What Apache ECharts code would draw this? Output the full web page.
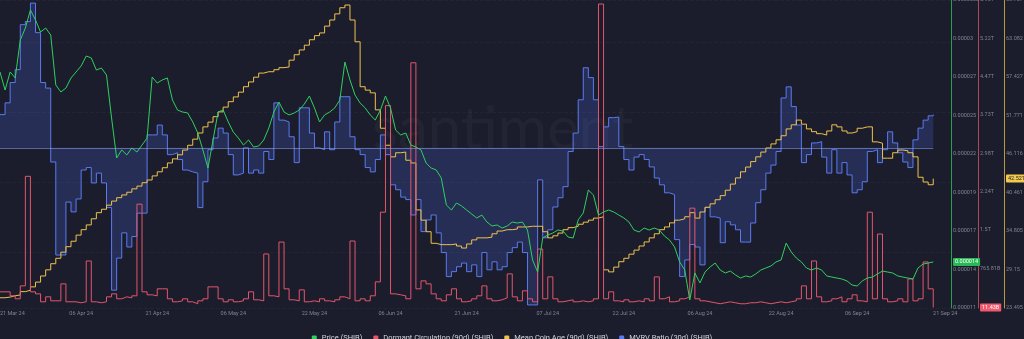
<!DOCTYPE html>
<html><head><meta charset="utf-8">
<script src="https://cdn.jsdelivr.net/npm/echarts@6/dist/echarts.min.js"></script>
<style>html,body{margin:0;padding:0;background:#1b1d2c;}#c{width:1024px;height:339px;}</style>
</head><body><div id="c"></div>
<script>
// ---- data (daily, starting 21 Mar 2024) ----
const startDate = [2024, 3, 21];
const axisEnd = [2024, 9, 24, 12];

// SHIB price, in millionths of USD
const priceMicro = [
27.86,26.57,27.86,27.43,30.14,31.0,32.29,31.57,30.71,31.0,
30.5,26.93,26.43,26.71,27.43,27.86,28.29,29.0,28.86,28.0,
28.14,27.64,24.57,21.71,22.29,21.93,22.43,22.14,22.64,23.14,
27.5,27.07,27.29,27.43,25.86,25.14,25.0,24.93,24.29,23.5,
22.29,21.0,23.0,25.0,25.14,24.29,23.57,23.14,22.64,23.0,
22.5,22.57,23.0,23.86,25.0,25.71,25.0,24.79,24.93,25.14,
25.57,26.14,25.29,24.29,24.79,25.0,25.29,25.86,28.57,27.29,
26.21,25.64,25.29,24.79,24.43,25.14,26.14,25.29,23.71,23.36,
23.5,22.64,22.5,22.29,21.36,21.0,20.86,20.29,18.36,18.0,
18.5,18.29,18.0,17.71,17.43,17.64,17.14,16.86,16.93,16.71,
16.86,17.14,17.07,17.14,16.57,14.43,13.57,16.0,16.21,16.36,
16.57,16.5,16.07,16.0,17.29,17.79,19.43,19.07,17.64,17.86,
18.0,17.86,17.64,17.43,17.14,16.57,16.43,16.71,16.57,16.71,
16.57,16.14,15.86,15.36,14.29,13.71,11.57,13.5,12.79,13.57,
13.93,14.21,13.71,13.5,13.64,13.36,13.14,13.29,13.21,13.43,
13.71,13.86,14.0,14.29,14.43,15.64,15.0,14.57,14.29,13.86,
13.71,13.86,13.71,13.29,13.21,13.14,13.07,12.93,12.64,12.57,
12.93,13.14,13.21,13.43,13.64,13.57,13.5,13.29,13.21,13.14,
13.07,13.86,14.14,14.21,14.29];

// Dormant Circulation (90d), billions of SHIB
const dormantB = [
313,313,236,178,428,2548,313,274,120,216,
139,139,467,120,120,101,120,910,120,101,
120,216,274,178,216,197,236,2009,313,255,
236,371,371,178,120,139,178,120,82,139,
178,409,409,178,120,159,120,139,178,313,
159,139,1045,236,216,1276,371,159,139,351,
120,139,120,178,139,120,159,216,178,1296,
139,178,139,236,506,1854,3916,274,255,236,
178,4745,371,525,467,274,178,139,255,371,
178,120,139,178,236,428,178,139,159,197,
660,216,139,332,178,120,1141,178,602,178,
120,139,159,120,139,120,139,178,5882,178,
313,139,120,159,120,139,120,178,139,602,
178,216,120,139,178,216,1932,178,139,120,
101,82,101,120,101,82,82,101,101,120,
101,82,101,120,101,120,139,178,428,178,
910,216,120,139,178,216,120,178,255,139,
120,1854,178,1431,178,120,139,178,120,563,
139,178,891,371,11.43];

// Mean Coin Age (90d)
const meanCoinAge = [
25.0,25.1,25.3,25.4,25.9,26.1,26.6,27.3,28.2,29.1,
30.0,30.8,31.7,32.5,33.3,34.2,35.0,35.7,36.6,37.5,
38.0,38.6,39.2,39.7,40.1,40.5,41.0,41.4,41.9,42.3,
42.9,43.5,44.1,44.8,45.4,46.0,46.7,47.4,48.3,49.2,
50.1,50.8,51.6,52.3,53.0,53.8,54.5,55.2,56.0,56.7,
57.4,58.0,58.2,58.2,58.5,58.8,58.9,59.9,60.7,61.4,
62.1,62.9,63.5,63.9,64.9,65.8,66.7,67.6,68.0,65.8,
62.6,56.0,55.5,55.1,52.6,49.9,47.4,45.7,46.3,46.4,
45.2,44.8,37.9,36.4,34.7,33.0,32.8,32.8,32.8,32.9,
32.6,32.3,32.9,33.5,33.8,33.8,33.9,34.4,34.8,35.0,
35.0,35.1,35.4,35.4,35.5,35.5,35.5,34.7,33.8,34.1,
34.5,35.0,35.3,35.5,35.8,36.1,36.4,36.7,36.9,29.1,
28.8,29.5,30.3,30.8,31.4,32.0,32.6,33.2,33.8,34.4,
35.0,35.4,36.0,36.4,36.6,36.9,37.5,36.7,37.6,38.3,
38.8,39.4,40.0,40.8,41.7,42.6,43.5,44.2,45.0,45.7,
46.4,47.0,47.6,48.2,48.8,49.8,50.4,51.1,50.5,49.8,
49.4,49.1,48.9,49.5,50.4,50.1,49.5,49.2,49.4,49.9,
50.1,50.1,47.9,47.7,45.5,45.5,46.3,46.7,46.6,46.3,
45.7,42.7,42.0,41.6,42.5];

// MVRV Ratio (30d), percent
const mvrvPct = [
5.4,7.3,10.6,12.7,20.0,20.5,23.5,18.7,10.6,9.7,
-2.3,-17.4,-17.4,-8.8,-10.4,-8.3,-3.6,-3.2,-5.7,-4.1,
-5.7,-9.7,-23.1,-17.9,-13.8,-16.1,-14.4,-10.6,-10.6,2.1,
2.1,3.7,2.1,-1.1,-0.8,-1.9,-3.6,-3.9,-4.1,-9.7,
-5.5,-0.3,1.6,3.2,2.4,-1.1,-4.4,-4.1,0,-4.1,
-3.6,-4.1,-0.6,-1.9,7.3,4.5,4.2,1.8,-2.4,6.5,
6.5,2.4,0.0,-0.3,2.6,-0.3,4.2,8.3,8.3,1.8,
-0.3,-1.1,-3.2,-3.9,-1.9,2.1,-1.1,-6.0,-6.8,-8.0,
-8.4,-10.9,-8.4,-13.6,-11.7,-10.9,-13.8,-17.0,-20.9,-20.1,
-19.3,-18.7,-20.1,-19.0,-20.9,-17.0,-19.8,-18.5,-19.8,-19.3,
-17.0,-16.2,-15.3,-17.0,-25.5,-25.5,-5.2,-14.6,-13.3,-9.6,
-8.1,-6.3,-0.6,2.4,7.8,13.0,11.4,7.8,0.2,3.4,
4.9,5.0,0.2,-1.9,-3.6,-1.5,-1.1,-1.9,-3.1,-4.9,
-6.0,-7.3,-7.6,-14.9,-20.9,-18.2,-15.7,-16.1,-19.0,-9.7,
-11.2,-11.4,-15.4,-12.0,-12.5,-13.3,-15.3,-15.3,-12.2,-8.9,
-6.8,-4.1,-2.8,-0.6,8.1,9.9,6.7,3.7,-2.4,-1.1,
0.8,1.0,-1.5,-4.1,-0.3,-4.1,-2.4,-4.4,-7.3,-6.8,
-5.5,-0.6,-0.3,-2.4,-0.3,2.6,0.8,-0.8,-2.3,-3.2,
1.3,3.2,4.5,5.2,5.4];

// ---- tick labels ----
const xTickDates = [[2024,3,21],[2024,4,6],[2024,4,21],[2024,5,6],[2024,5,22],[2024,6,6],[2024,6,21],[2024,7,7],[2024,7,22],[2024,8,6],[2024,8,22],[2024,9,6],[2024,9,21]];
const xTickLabels = ['21 Mar 24','06 Apr 24','21 Apr 24','06 May 24','22 May 24','06 Jun 24','21 Jun 24','07 Jul 24','22 Jul 24','06 Aug 24','22 Aug 24','06 Sep 24','21 Sep 24'];

const priceTicks = [11,13.75,16.5,19.25,22,24.75,27.5,30.25,33];
const priceTickLabels = ['0.000011','0.000014','0.000017','0.000019','0.000022','0.000025','0.000027','0.00003','0.0000332'];
const dormantTicks = [23.8,765.8,1507.8,2249.8,2991.8,3733.8,4475.8,5217.8,5959.8];
const dormantTickLabels = ['','765.81B','1.5T','2.24T','2.98T','3.73T','4.47T','5.22T','5.96T'];
const mcaTicks = [23.495,29.15,34.805,40.461,46.116,51.771,57.427,63.082,68.737];
const mcaTickLabels = ['23.495','29.15','34.805','40.461','46.116','51.771','57.427','63.082','68.737'];
const lastPriceLabel = '0.000014';
const lastDormantLabel = '11.43B';
const lastMcaLabel = '42.521';

const seriesNames = ['Price (SHIB)','Dormant Circulation (90d) (SHIB)','Mean Coin Age (90d) (SHIB)','MVRV Ratio (30d) (SHIB)'];
const colors = {price:'#30d05e', dormant:'#e2566b', mca:'#efc24d', mvrv:'#5a7af0'};

// ---- build ----
const DAY = 86400000;
function toTime(a){ return new Date(a[0], a[1]-1, a[2], a[3]||0).getTime(); }
const t0 = toTime(startDate);
const tMax = toTime(axisEnd);
function pairs(arr){ return arr.map((v,i)=>[t0 + i*DAY, v]); }
const xTickTimes = xTickDates.map(toTime);
const lastIdx = priceMicro.length - 1;

const labelFont = 'Roboto';
const labelColor = '#80838f';

function nearestIndex(list, v){
  let best=0, bd=Infinity;
  list.forEach((t,i)=>{ const d=Math.abs(t-v); if(d<bd){bd=d;best=i;} });
  return best;
}

function rightAxis(o){
  const lastVal = o.last;
  return {
    type:'value', position:'right', offset:o.offset, min:o.min, max:o.max,
    axisLine:{show:true, lineStyle:{color:o.lineColor, width:1}},
    axisTick:{show:false},
    splitLine:{show:!!o.split, lineStyle:{color:'rgba(255,255,255,0.035)', type:'dashed'}},
    axisLabel:{
      show:true, margin:2, fontSize:5.5, color:labelColor, fontFamily:labelFont,
      customValues:o.ticks.concat([lastVal]),
      hideOverlap:false,
      formatter:function(v){
        if (Math.abs(v-lastVal) < 1e-9) return '{cur|'+o.lastLabel+'}';
        return o.labels[nearestIndex(o.ticks, v)];
      },
      rich:{cur:{backgroundColor:o.boxBg, color:o.boxColor, fontSize:5.5, fontFamily:labelFont, padding:[1,2,1,2], borderRadius:1}}
    }
  };
}

const chart = echarts.init(document.getElementById('c'), null, {renderer:'canvas'});
chart.setOption({
  backgroundColor:'#1b1d2c',
  animation:false,
  textStyle:{fontFamily:labelFont},
  grid:{left:0, right:73, top:0, bottom:31, containLabel:false, outerBoundsMode:'none'},
  graphic:[{type:'text', left:372, top:100, silent:true, z:0,
    style:{text:'santiment', fontSize:60, fontFamily:'Lato', fontWeight:400, fill:'rgba(255,255,255,0.035)'}}],
  legend:{
    data:seriesNames, top:329, left:'center', icon:'roundRect', itemWidth:5, itemHeight:5, itemGap:11,
    textStyle:{color:'#d4d6dc', fontSize:7.5, fontFamily:labelFont}
  },
  xAxis:{
    type:'value', min:t0, max:tMax, scale:true,
    axisLine:{show:false}, axisTick:{show:false},
    splitLine:{show:false},
    axisLabel:{
      customValues:xTickTimes, fontSize:5.5, color:labelColor, fontFamily:labelFont, margin:3,
      alignMinLabel:'left', hideOverlap:false,
      formatter:function(v){
        const i = nearestIndex(xTickTimes, v);
        if (i === xTickTimes.length-1) return '{last|'+xTickLabels[i]+'}';
        return xTickLabels[i];
      },
      rich:{last:{fontSize:5.5, color:labelColor, fontFamily:labelFont, padding:[0,0,0,24]}}
    }
  },
  yAxis:[
    rightAxis({offset:0, min:11, max:33, ticks:priceTicks, labels:priceTickLabels, last:priceMicro[lastIdx], lastLabel:lastPriceLabel,
      lineColor:'rgba(46,204,91,0.75)', boxBg:'#27b955', boxColor:'#ffffff', split:true}),
    rightAxis({offset:27, min:0, max:5960, ticks:dormantTicks, labels:dormantTickLabels, last:dormantB[lastIdx], lastLabel:lastDormantLabel,
      lineColor:'rgba(226,86,107,0.75)', boxBg:'#f05a6c', boxColor:'#ffffff'}),
    rightAxis({offset:53, min:23.495, max:68.737, ticks:mcaTicks, labels:mcaTickLabels, last:meanCoinAge[lastIdx], lastLabel:lastMcaLabel,
      lineColor:'rgba(239,194,77,0.75)', boxBg:'#f2c94c', boxColor:'#1b1d2c'}),
    {type:'value', show:false, min:-26, max:24, splitLine:{show:false}}
  ],
  series:[
    {name:seriesNames[3], type:'line', yAxisIndex:3, step:'end', data:pairs(mvrvPct), symbol:'none', z:1,
      itemStyle:{color:colors.mvrv}, lineStyle:{color:colors.mvrv, width:1},
      areaStyle:{color:'rgba(78,102,228,0.33)'},
      markLine:{silent:true, symbol:['none','none'], label:{show:false},
        lineStyle:{color:'rgba(135,155,230,0.6)', width:1, type:'solid'},
        data:[[{coord:[t0,0]},{coord:[t0+lastIdx*DAY,0]}]]}},
    {name:seriesNames[2], type:'line', yAxisIndex:2, step:'end', data:pairs(meanCoinAge), symbol:'none', z:2,
      itemStyle:{color:colors.mca}, lineStyle:{color:colors.mca, width:1}},
    {name:seriesNames[1], type:'line', yAxisIndex:1, step:'end', data:pairs(dormantB), symbol:'none', z:3,
      itemStyle:{color:colors.dormant}, lineStyle:{color:colors.dormant, width:1}},
    {name:seriesNames[0], type:'line', yAxisIndex:0, data:pairs(priceMicro), symbol:'none', z:4,
      itemStyle:{color:colors.price}, lineStyle:{color:colors.price, width:1}}
  ]
});
</script>
</body></html>
